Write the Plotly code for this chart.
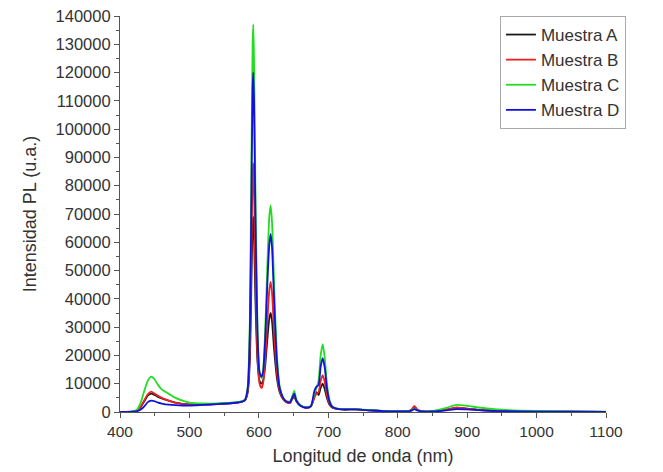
import plotly.graph_objects as go

wavelength = [400, 410, 420, 425, 430, 435, 440, 445, 450, 455, 460, 470, 480, 490, 500,
              520, 540, 560, 575, 580, 584, 587, 589, 591, 592, 593, 595, 598, 601, 604,
              606, 609, 612, 615, 617, 619, 622, 626, 630, 635, 640, 645, 648, 651, 654,
              660, 668, 675, 680, 683, 686, 689, 692, 695, 698, 702, 706, 712, 720, 740,
              760, 780, 800, 815, 820, 824, 828, 835, 850, 870, 885, 900, 920, 950, 1000,
              1050, 1100]

muestra_a = [0, 0, 200, 600, 1800, 3800, 5800, 6500, 6000, 5300, 4800, 4000, 3300, 2900, 2700,
             2700, 2900, 3200, 3700, 4200, 7000, 18000, 42000, 66000, 69000, 63000, 40000, 18000, 11000, 10000,
             11000, 16000, 25000, 33000, 35000, 32000, 22000, 12000, 7000, 4500, 3500, 3300, 4500, 5500, 3800,
             2200, 1500, 2000, 5500, 7000, 6000, 8500, 10000, 8000, 5000, 2500, 1500, 1100, 900, 900,
             600, 300, 200, 300, 800, 2000, 900, 300, 200, 800, 1500, 1200, 700, 400, 200,
             100, 50]

muestra_b = [0, 0, 200, 700, 2000, 4200, 6200, 7200, 6500, 5700, 5000, 4000, 3200, 2800, 2600,
             2600, 2800, 3100, 3600, 4100, 7500, 22000, 52000, 84000, 88000, 80000, 50000, 20000, 10000, 8500,
             10000, 18000, 31000, 43000, 46000, 42000, 28000, 14000, 7500, 4500, 3400, 3200, 4800, 6000, 3900,
             2200, 1500, 2000, 5000, 6500, 7000, 11000, 13000, 10500, 6000, 2800, 1600, 1100, 900, 900,
             600, 300, 200, 300, 900, 2100, 900, 300, 200, 800, 1500, 1200, 700, 400, 200,
             100, 50]

muestra_c = [0, 0, 300, 1000, 3500, 7500, 11000, 12500, 11500, 9500, 8000, 6500, 5000, 4000, 3300,
             3000, 3000, 3300, 3800, 4400, 9000, 32000, 80000, 130000, 137000, 125000, 80000, 30000, 14000, 12000,
             14000, 28000, 50000, 69000, 73000, 67000, 45000, 20000, 9000, 5000, 3800, 3800, 5500, 7500, 4500,
             2400, 1600, 2200, 6500, 8500, 11000, 20000, 24000, 19000, 10000, 4000, 2000, 1300, 1000, 1000,
             700, 400, 300, 300, 600, 1200, 700, 300, 400, 1500, 2500, 2200, 1500, 800, 400,
             200, 100]

muestra_d = [0, 0, 100, 300, 900, 2000, 3500, 4000, 3800, 3300, 3000, 2600, 2400, 2300, 2300,
             2500, 2800, 3100, 3600, 4200, 8500, 28000, 70000, 114000, 120000, 110000, 70000, 28000, 14000, 12500,
             14000, 25000, 44000, 59000, 63000, 58000, 39000, 18000, 8500, 5000, 3700, 3500, 5000, 6500, 4000,
             2200, 1500, 2100, 7500, 9000, 9500, 16000, 19000, 15500, 8500, 3500, 1800, 1200, 900, 900,
             600, 300, 200, 200, 500, 1000, 600, 200, 200, 600, 1000, 900, 600, 300, 150,
             80, 40]

series = [
    ("Muestra A", muestra_a, "#1a1a1a"),
    ("Muestra B", muestra_b, "#ee2222"),
    ("Muestra C", muestra_c, "#22dd22"),
    ("Muestra D", muestra_d, "#1111dd"),
]

FONT = "Liberation Sans, Arial, sans-serif"

fig = go.Figure()
for name, vals, color in series:
    fig.add_trace(go.Scatter(x=wavelength, y=vals, mode="lines", name=name,
                             line=dict(color=color, width=1.8, shape="spline", smoothing=0.6)))

axis_common = dict(
    showline=True, linecolor="#555555", linewidth=1.2,
    ticks="outside", ticklen=5, tickcolor="#555555", tickwidth=1.2,
    showgrid=False, zeroline=False, automargin=False,
    ticklabeloverflow="allow",
    title_font=dict(family=FONT, size=18, color="#333333"),
    mirror=False,
)

fig.update_xaxes(range=[400, 1100], dtick=100, tick0=400, tickformat="d",
                 tickfont=dict(family=FONT, size=15.5, color="#333333"),
                 minor=dict(ticks="outside", ticklen=3, dtick=50, tickcolor="#555555"),
                 title_text="Longitud de onda (nm)", title_standoff=10, **axis_common)
fig.update_yaxes(range=[0, 140000], dtick=10000, tick0=0, tickformat="d",
                 tickfont=dict(family=FONT, size=16.5, color="#333333"),
                 minor=dict(ticks="outside", ticklen=3, dtick=5000, tickcolor="#555555"),
                 title_text="Intensidad PL (u.a.)", title_standoff=14, **axis_common)

fig.update_layout(
    width=655, height=464,
    margin=dict(l=112, r=57, t=8, b=60),
    paper_bgcolor="white", plot_bgcolor="white",
    font=dict(family=FONT, color="#333333"),
    legend=dict(x=1.041, y=1.0, xanchor="right", yanchor="top",
                bgcolor="white", bordercolor="#aaaaaa", borderwidth=1,
                font=dict(size=17, color="#333333"), tracegroupgap=0),
    showlegend=True,
)

fig.write_html("out.html")
